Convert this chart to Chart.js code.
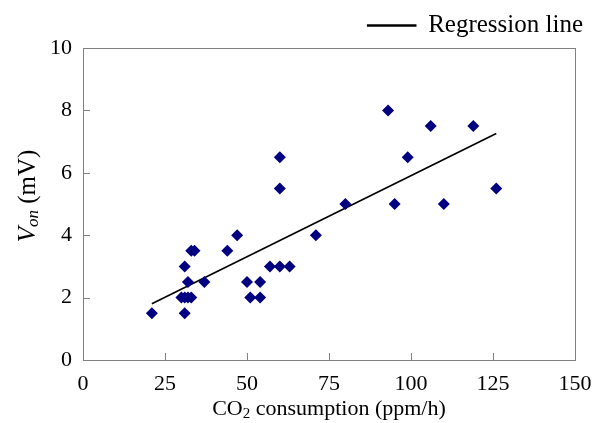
<!DOCTYPE html>
<html>
<head>
<meta charset="utf-8">
<script src="https://cdn.jsdelivr.net/npm/chart.js@4.4.1/dist/chart.umd.min.js"></script>
<style>
  html, body { margin: 0; padding: 0; background: #fff; }
  #wrap { width: 597px; height: 423px; }
</style>
</head>
<body>
<div id="wrap"><canvas id="c" width="597" height="423"></canvas></div>
<script>
// measured points: CO2 consumption (ppm/h) vs V_on (mV)
const co2 = [21, 31, 30, 31, 32, 33, 32, 37, 31, 33, 34, 44, 47, 50, 54, 51, 54,
             57, 60, 63, 60, 60, 71, 80, 93, 95, 99, 106, 110, 119, 126];
const von = [1.5, 1.5, 2, 2, 2, 2, 2.5, 2.5, 3, 3.5, 3.5, 3.5, 4, 2.5, 2.5, 2, 2,
             3, 3, 3, 6.5, 5.5, 4, 5, 8, 5, 6.5, 7.5, 5, 7.5, 5.5];
// regression line end points
const regX = [21, 126];
const regY = [1.8, 7.26];

const xTicks = [0, 25, 50, 75, 100, 125, 150];
const yTicks = [0, 2, 4, 6, 8, 10];

const serif = '"Liberation Serif", "Times New Roman", serif';
const axisGray = '#808080';

// draws text pieces in a row, centred on x; pieces = [text, font, dy]
function drawRun(ctx, pieces, x, y) {
  const widths = pieces.map(p => { ctx.font = p[1]; return ctx.measureText(p[0]).width; });
  let cx = x - widths.reduce((a, b) => a + b, 0) / 2;
  pieces.forEach((p, i) => {
    ctx.font = p[1];
    ctx.fillText(p[0], cx, y + p[2]);
    cx += widths[i];
  });
}

const frame = {
  id: 'frame',
  afterDatasetsDraw(chart) {
    const { ctx, chartArea: a, scales } = chart;
    ctx.save();
    ctx.strokeStyle = axisGray;
    ctx.lineWidth = 1;
    ctx.strokeRect(a.left + 0.5, a.top + 0.5, a.right - a.left, a.bottom - a.top);
    ctx.beginPath();
    xTicks.slice(1, -1).forEach(v => {
      const px = Math.round(scales.x.getPixelForValue(v)) + 0.5;
      ctx.moveTo(px, a.bottom);
      ctx.lineTo(px, a.bottom - 7);
    });
    yTicks.slice(1, -1).forEach(v => {
      const py = Math.round(scales.y.getPixelForValue(v)) + 0.5;
      ctx.moveTo(a.left, py);
      ctx.lineTo(a.left + 7, py);
    });
    ctx.stroke();

    ctx.fillStyle = '#000';
    ctx.textBaseline = 'middle';
    ctx.textAlign = 'left';

    // x axis title
    drawRun(ctx, [
      ['CO', '22px ' + serif, 0],
      ['2', '15px ' + serif, 5],
      [' consumption (ppm/h)', '22px ' + serif, 0]
    ], (a.left + a.right) / 2, 409);

    // y axis title: V_on (mV)
    ctx.translate(28, 196);
    ctx.rotate(-Math.PI / 2);
    drawRun(ctx, [
      ['V', 'italic 25px ' + serif, 0],
      ['on', 'italic 17px ' + serif, 6],
      [' (mV)', '25px ' + serif, 0]
    ], 0, 0);
    ctx.restore();
  }
};

new Chart(document.getElementById('c'), {
  type: 'scatter',
  data: {
    datasets: [
      {
        label: 'data',
        data: co2.map((v, i) => ({ x: v, y: von[i] })),
        pointStyle: 'rectRot',
        pointRadius: 6,
        backgroundColor: '#000080',
        borderColor: '#000080',
        borderWidth: 0
      },
      {
        label: 'Regression line',
        type: 'line',
        data: regX.map((v, i) => ({ x: v, y: regY[i] })),
        borderColor: '#000',
        backgroundColor: '#000',
        borderWidth: 1.6,
        pointRadius: 0,
        fill: false
      }
    ]
  },
  options: {
    responsive: false,
    animation: false,
    layout: { padding: { left: 30, right: 5, top: 4, bottom: 0 } },
    plugins: {
      legend: {
        align: 'end',
        labels: {
          filter: item => item.text === 'Regression line',
          boxWidth: 48,
          boxHeight: 1,
          color: '#000',
          font: { family: serif, size: 25 },
          padding: 9
        }
      },
      tooltip: { enabled: false }
    },
    scales: {
      x: {
        type: 'linear',
        min: 0,
        max: 150,
        afterBuildTicks: s => { s.ticks = xTicks.map(v => ({ value: v })); },
        afterFit: s => { s.height = 63; s.paddingRight = 0; s.paddingLeft = 0; },
        grid: { display: false, drawTicks: false },
        border: { display: false },
        ticks: { color: '#000', font: { family: serif, size: 22 }, padding: 11, maxRotation: 0 }
      },
      y: {
        type: 'linear',
        min: 0,
        max: 10,
        afterBuildTicks: s => { s.ticks = yTicks.map(v => ({ value: v })); },
        afterFit: s => { s.width = 53; },
        grid: { display: false, drawTicks: false },
        border: { display: false },
        ticks: { color: '#000', font: { family: serif, size: 22 }, padding: 11 }
      },
      y2: {
        type: 'linear',
        position: 'right',
        min: 0,
        max: 10,
        afterFit: s => { s.width = 17; },
        grid: { display: false, drawTicks: false },
        border: { display: false },
        ticks: { display: false }
      }
    }
  },
  plugins: [frame]
});
</script>
</body>
</html>
